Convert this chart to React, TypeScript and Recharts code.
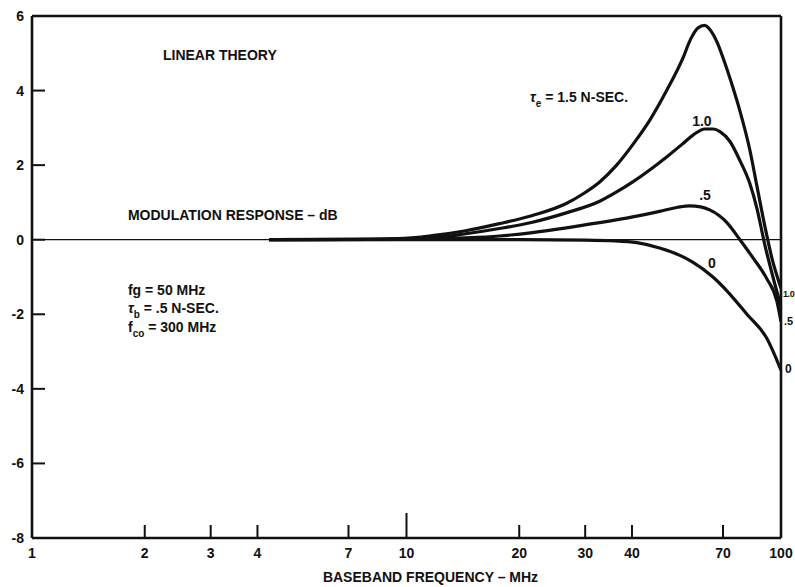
import React from 'react';
import { LineChart, Line, XAxis, YAxis, ReferenceLine, ReferenceDot } from 'recharts';

// ---- axis ticks ----
const xTicks = [1, 2, 3, 4, 7, 10, 20, 30, 40, 70, 100];
const yTicks = [-8, -6, -4, -2, 0, 2, 4, 6];

// ---- series: tau_e = 1.5 ns ----
const tau15Freq = [4.3, 7, 9.5, 11.7, 14.4, 17.7, 21.7, 26.7, 29.5, 32.8, 36.4, 40.2, 44.6, 49.5, 54.6, 57.5, 60, 62.5, 65, 67.5, 69.9, 74.3, 77.7, 82.6, 86.2, 90.6, 94.6, 100];
const tau15Db = [0, 0.01, 0.03, 0.11, 0.24, 0.43, 0.65, 0.97, 1.22, 1.55, 2.0, 2.55, 3.2, 4.0, 4.85, 5.4, 5.68, 5.75, 5.6, 5.3, 4.9, 4.1, 3.45, 2.4, 1.45, 0.35, -0.5, -1.3];

// ---- series: tau_e = 1.0 ns ----
const tau10Freq = [4.3, 8, 11.7, 14.4, 17.7, 21.7, 26.7, 32.8, 36.4, 40.2, 44.6, 49.5, 54.6, 58.1, 62.7, 66, 68.7, 73, 77.7, 82.6, 86.2, 90.6, 94.6, 100];
const tau10Db = [0, 0.01, 0.05, 0.16, 0.3, 0.47, 0.72, 1.03, 1.28, 1.55, 1.87, 2.22, 2.57, 2.8, 2.97, 2.97, 2.9, 2.64, 2.12, 1.5, 0.85, -0.15, -0.9, -1.8];

// ---- series: tau_e = 0.5 ns ----
const tau05Freq = [4.3, 10, 14.4, 17.7, 21.7, 25.6, 31.4, 38.7, 47.4, 53, 57, 61, 64.5, 71.7, 77.7, 84.1, 91.7, 97.5, 100];
const tau05Db = [0, 0.01, 0.05, 0.1, 0.19, 0.29, 0.43, 0.58, 0.76, 0.87, 0.91, 0.88, 0.8, 0.46, 0.0, -0.48, -1.05, -1.65, -2.2];

// ---- series: tau_e = 0 ----
const tau00Freq = [4.3, 20, 30, 36, 41.2, 47.4, 53.7, 58.1, 65.8, 71.7, 81.1, 91.7, 100];
const tau00Db = [0, 0, -0.01, -0.03, -0.08, -0.22, -0.42, -0.6, -1.0, -1.37, -2.0, -2.65, -3.5];

const toPoints = (fs: number[], ds: number[]) => fs.map((f, i) => ({ f, db: ds[i] }));
const series = [
  { name: '1.5', data: toPoints(tau15Freq, tau15Db) },
  { name: '1.0', data: toPoints(tau10Freq, tau10Db) },
  { name: '.5', data: toPoints(tau05Freq, tau05Db) },
  { name: '0', data: toPoints(tau00Freq, tau00Db) },
];

const FONT = '"Liberation Sans", Arial, Helvetica, sans-serif';
const INK = '#111';

const XTick = (props: any) => {
  const { x, y, payload } = props;
  const len = payload.value === 10 ? 25 : 13;
  return (
    <g>
      <line x1={x} x2={x} y1={y} y2={y - len} stroke={INK} strokeWidth={2} />
      <text x={x} y={y + 20} textAnchor="middle" fontFamily={FONT} fontWeight="bold" fontSize={14} fill={INK}>
        {payload.value}
      </text>
    </g>
  );
};

const YTick = (props: any) => {
  const { x, y, payload } = props;
  return (
    <g>
      <line x1={x} x2={x + 13} y1={y} y2={y} stroke={INK} strokeWidth={2} />
      <text x={x - 8} y={y + 5} textAnchor="end" fontFamily={FONT} fontWeight="bold" fontSize={14} fill={INK}>
        {payload.value}
      </text>
    </g>
  );
};

const textStyle = { fontFamily: FONT, fontWeight: 'bold' as const, fontSize: 14, fill: INK };

const note = (content: React.ReactNode, anchor: 'start' | 'middle' | 'end' = 'start', dx = 0, size = 14, spacing = 0) =>
  (p: any) => (
    <text x={p.cx + dx} y={p.cy} textAnchor={anchor} {...textStyle} fontSize={size} letterSpacing={spacing}>
      {content}
    </text>
  );

const sub = (main: string, s: string, rest: string, italicMain = false) => (
  <>
    <tspan fontStyle={italicMain ? 'italic' : 'normal'}>{main}</tspan>
    <tspan dy={5} fontSize={10}>{s}</tspan>
    <tspan dy={-5}>{rest}</tspan>
  </>
);

export default function App() {
  return (
    <div style={{ position: 'absolute', left: 0, top: 0, background: '#fff' }}>
      <LineChart width={795} height={587} margin={{ top: 16, right: 14, bottom: 19, left: 0 }}>
        <XAxis
          dataKey="f"
          type="number"
          scale="log"
          domain={[1, 100]}
          allowDataOverflow
          ticks={xTicks}
          interval={0}
          tickSize={0}
          tickMargin={0}
          tickLine={false}
          tick={<XTick />}
          height={30}
          axisLine={{ stroke: INK, strokeWidth: 2.6 }}
          label={{
            content: (p: any) => (
              <text x={p.viewBox.x + p.viewBox.width / 2 + 24} y={p.viewBox.y + 44} textAnchor="middle" {...textStyle}>
                BASEBAND FREQUENCY – MHz
              </text>
            ),
          }}
        />
        <YAxis
          dataKey="db"
          type="number"
          domain={[-8, 6]}
          allowDataOverflow
          ticks={yTicks}
          interval={0}
          width={32}
          tickSize={0}
          tickMargin={0}
          tickLine={false}
          tick={<YTick />}
          axisLine={{ stroke: INK, strokeWidth: 2.6 }}
        />
        <ReferenceLine y={0} stroke={INK} strokeWidth={1.3} />
        <ReferenceLine y={6} stroke={INK} strokeWidth={2.6} />
        <ReferenceLine x={100} stroke={INK} strokeWidth={2.6} />
        {series.map((s) => (
          <Line
            key={s.name}
            data={s.data}
            dataKey="db"
            type="monotone"
            stroke={INK}
            strokeWidth={3.2}
            dot={false}
            activeDot={false}
            isAnimationActive={false}
          />
        ))}
        <ReferenceDot x={2.237} y={4.82} r={0} ifOverflow="visible" shape={note('LINEAR THEORY')} />
        <ReferenceDot x={21.37} y={3.69} r={0} ifOverflow="visible" shape={note(sub('τ', 'e', ' = 1.5 N-SEC.', true))} />
        <ReferenceDot x={61.5} y={3.05} r={0} ifOverflow="visible" shape={note('1.0', 'middle')} />
        <ReferenceDot x={62.7} y={1.065} r={0} ifOverflow="visible" shape={note('.5', 'middle')} />
        <ReferenceDot x={65.4} y={-0.76} r={0} ifOverflow="visible" shape={note('0', 'middle')} />
        <ReferenceDot x={1.804} y={0.53} r={0} ifOverflow="visible" shape={note('MODULATION RESPONSE – dB')} />
        <ReferenceDot x={1.804} y={-1.48} r={0} ifOverflow="visible" shape={note('fg = 50 MHz')} />
        <ReferenceDot x={1.804} y={-1.97} r={0} ifOverflow="visible" shape={note(sub('τ', 'b', ' = .5 N-SEC.', true))} />
        <ReferenceDot x={1.804} y={-2.47} r={0} ifOverflow="visible" shape={note(sub('f', 'co', ' = 300 MHz'))} />
        <ReferenceDot x={100} y={-1.54} r={0} ifOverflow="visible" shape={note('1.0', 'start', 2, 9, -0.4)} />
        <ReferenceDot x={100} y={-2.29} r={0} ifOverflow="visible" shape={note('.5', 'start', 3, 11)} />
        <ReferenceDot x={100} y={-3.57} r={0} ifOverflow="visible" shape={note('0', 'start', 4, 12)} />
      </LineChart>
    </div>
  );
}
